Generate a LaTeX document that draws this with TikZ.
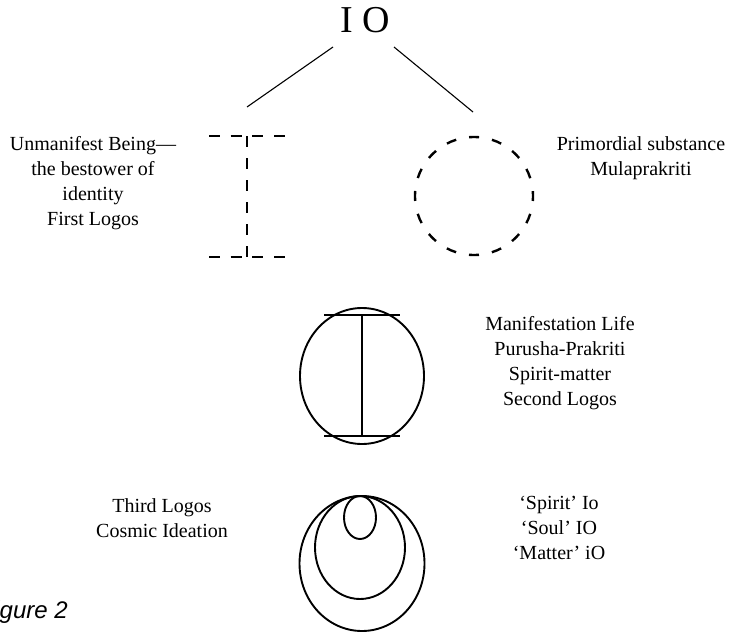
\documentclass[tikz,border=0pt]{standalone}
\usepackage{fontspec}
\setmainfont{Liberation Serif}
\newfontfamily\figfont{Liberation Sans}
\begin{document}
\begin{tikzpicture}[x=1pt,y=-1pt,
  lbl/.style={font=\fontsize{20}{25}\selectfont, align=center, inner sep=0pt},
  thinline/.style={line width=1.1pt},
  solidshape/.style={line width=1.9pt},
  dsh/.style={line width=2.4pt}]
\useasboundingbox (0,0) rectangle (731,632);
% title and branches
\node[font=\fontsize{38}{40}\selectfont, anchor=base, inner sep=0pt] (io) at (365,32) {I O};
\coordinate (la) at (333,47); \coordinate (lb) at (247,107);
\coordinate (ra) at (394,47); \coordinate (rb) at (473,112);
\draw[thinline] (la) -- (lb);
\draw[thinline] (ra) -- (rb);
% dashed I
\coordinate (itl) at (209,136); \coordinate (itr) at (285,136);
\coordinate (ibl) at (209,257); \coordinate (ibr) at (285,257);
\coordinate (itop) at (247,136); \coordinate (ibot) at (247,257);
\draw[dsh, dash pattern=on 11pt off 10.67pt] (itl) -- (itr);
\draw[dsh, dash pattern=on 11pt off 10.67pt] (ibl) -- (ibr);
\draw[dsh, dash pattern=on 11pt off 11pt] (itop) -- (ibot);
% dashed circle
\draw[dsh, dash pattern=on 10pt off 13.17pt, dash phase=5pt] (474,196) circle[radius=59];
% middle symbol
\draw[solidshape] (362,376) ellipse[x radius=62, y radius=68];
\draw[solidshape] (324,315) -- (400,315);
\draw[solidshape] (324,436) -- (400,436);
\draw[solidshape] (362,315) -- (362,436);
% bottom nested ellipses
\draw[solidshape] (362,563.5) ellipse[x radius=62.5, y radius=67.5];
\draw[solidshape] (360,547.5) ellipse[x radius=45, y radius=51.5];
\draw[solidshape] (360,517.5) ellipse[x radius=16, y radius=21.5];
% labels
\node[lbl] (t1) at (93,183) {Unmanifest Being—\\the bestower of\\identity\\First Logos};
\node[lbl] (t2) at (641,158) {Primordial substance\\Mulaprakriti};
\node[lbl] (t3) at (560,363) {Manifestation Life\\Purusha-Prakriti\\Spirit-matter\\Second Logos};
\node[lbl] (t4) at (162,518) {Third Logos\\Cosmic Ideation};
\node[lbl] (t5) at (559,528) {‘Spirit’ Io\\‘Soul’ IO\\‘Matter’ iO};
\node[font=\figfont\itshape\fontsize{24}{28}\selectfont, anchor=base east, inner sep=0pt] (fig) at (68,618) {Figure 2};
\end{tikzpicture}
\end{document}
